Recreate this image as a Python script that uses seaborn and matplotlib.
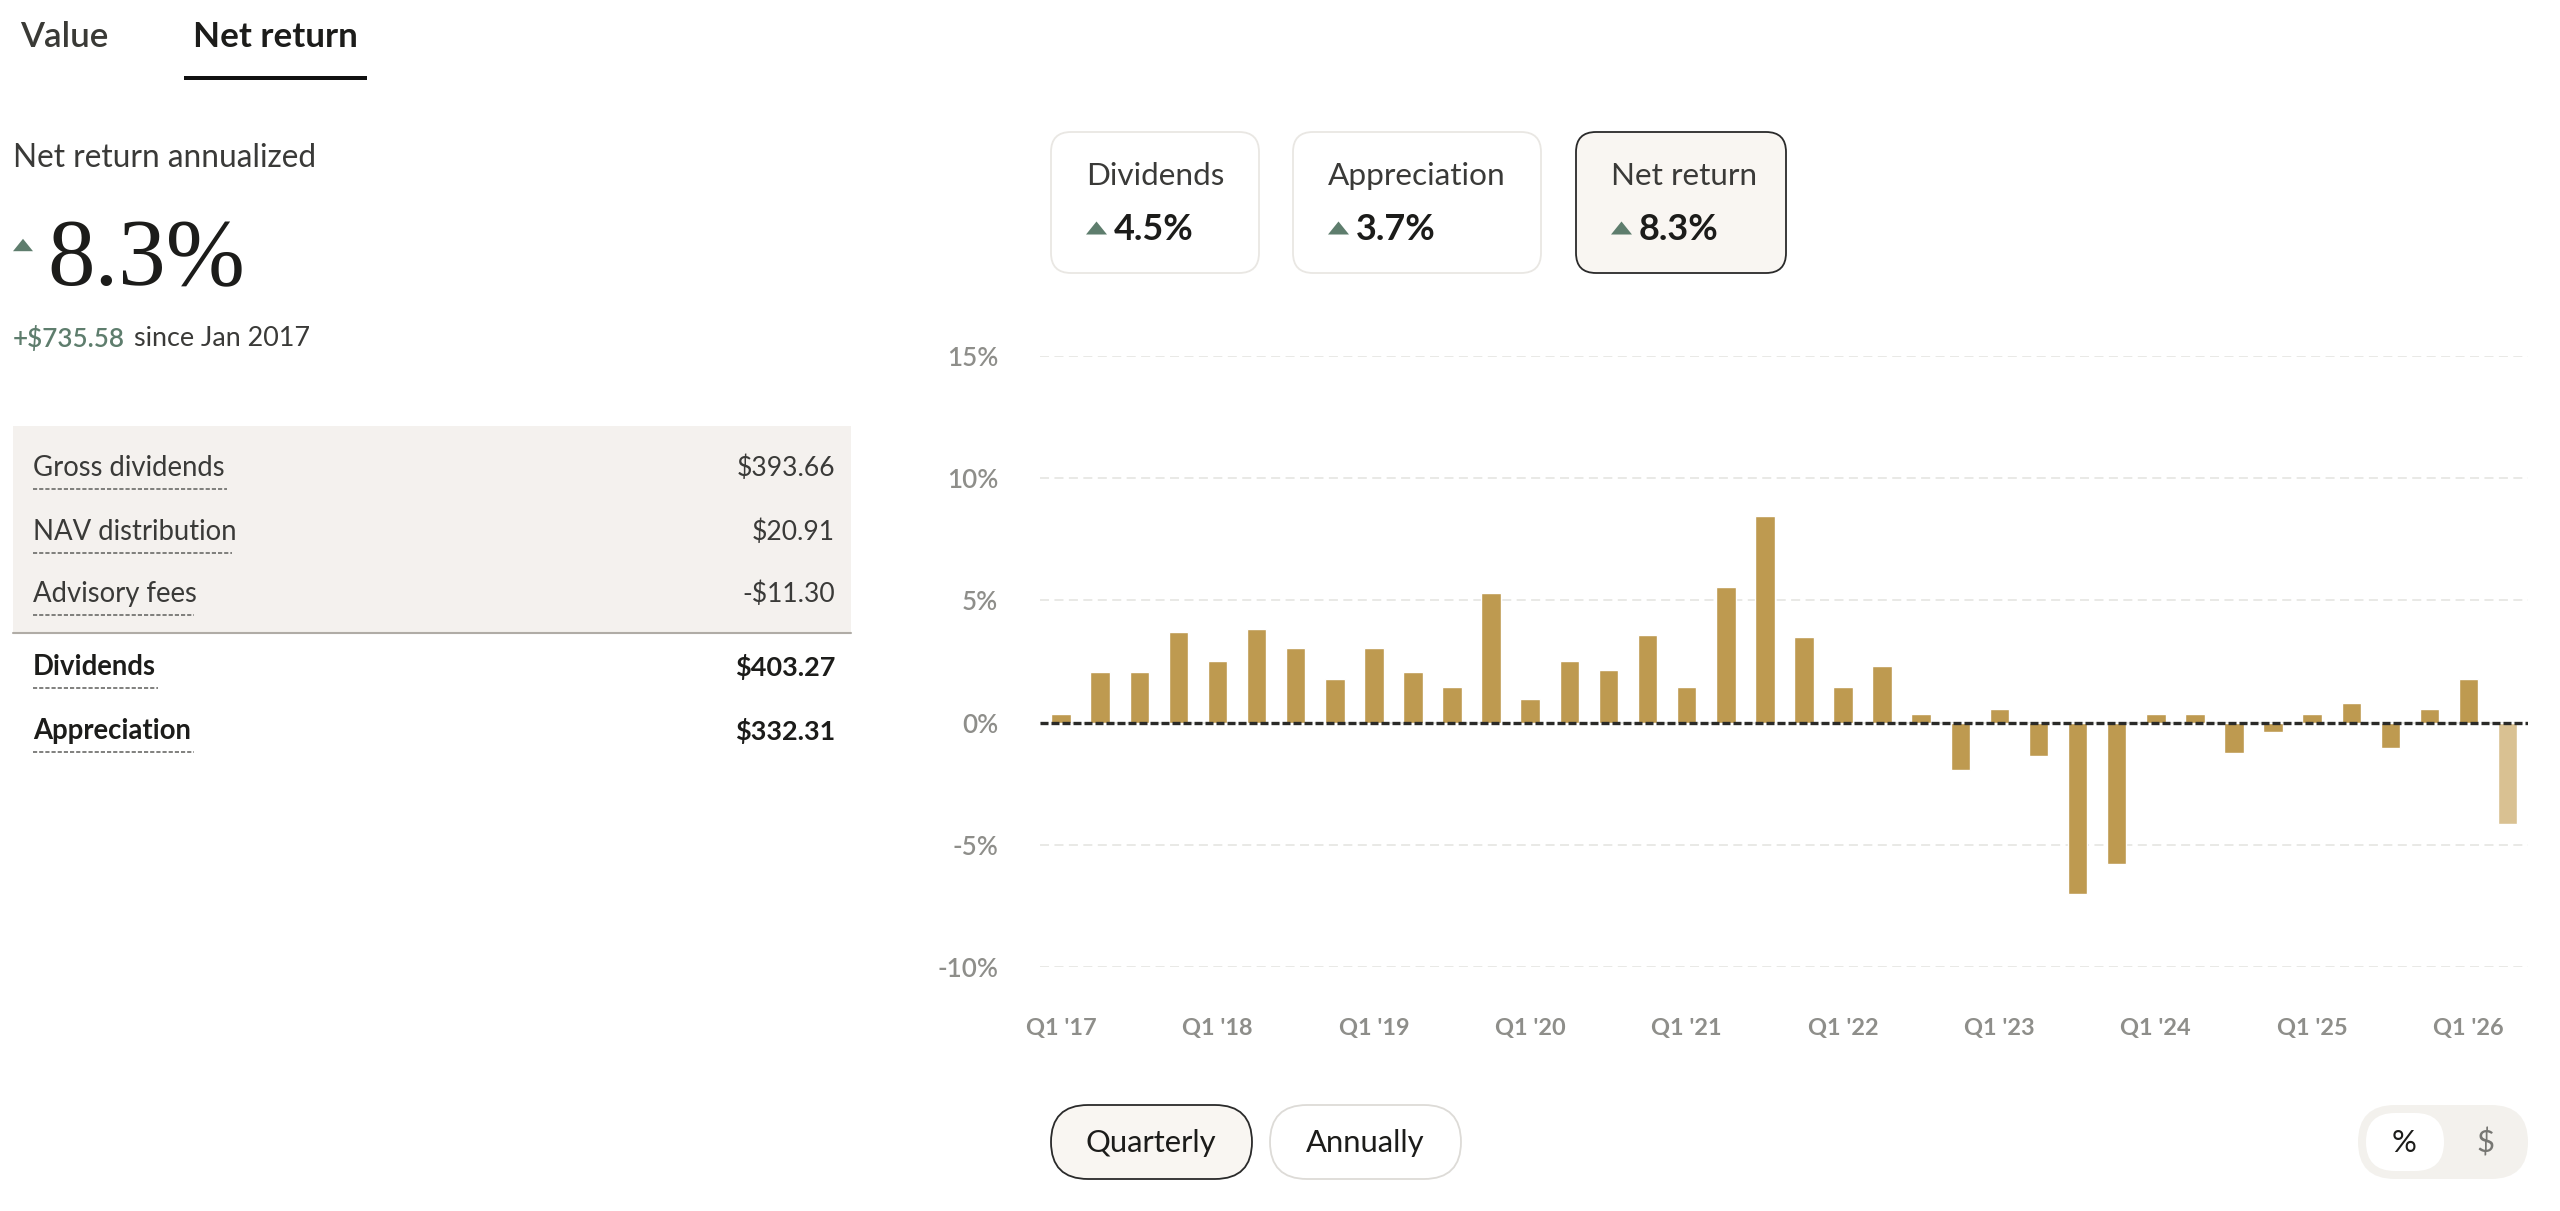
import pandas as pd
import seaborn as sns
import matplotlib.pyplot as plt
from matplotlib.patches import FancyBboxPatch, Polygon, Rectangle

# Data
quarters = [f"Q{q} '{y}" for y in range(17, 26) for q in range(1, 5)] + ["Q1 '26", "Q2 '26"]
net_return = [0.35, 2.05, 2.05, 3.7, 2.5, 3.85, 3.05, 1.8, 3.05, 2.05, 1.45, 5.3, 0.95, 2.5, 2.15, 3.6, 1.45, 5.55,
              8.45, 3.5, 1.45, 2.3, 0.35, -1.95, 0.55, -1.35, -7.0, -5.8, 0.35, 0.35, -1.25, -0.4, 0.35, 0.8,
              -1.05, 0.55, 1.8, -4.15]
status = ['final'] * 37 + ['estimate']
y_ticks = [-10, -5, 0, 5, 10, 15]
y_labels = ['-10%', '-5%', '0%', '5%', '10%', '15%']
x_ticks = [0, 4, 8, 12, 16, 20, 24, 28, 32, 36]
x_labels = ["Q1 '17", "Q1 '18", "Q1 '19", "Q1 '20", "Q1 '21", "Q1 '22", "Q1 '23", "Q1 '24", "Q1 '25", "Q1 '26"]

breakdown_names = ['Gross dividends', 'NAV distribution', 'Advisory fees', 'Dividends', 'Appreciation']
breakdown_values = ['$393.66', '$20.91', '-$11.30', '$403.27', '$332.31']
card_names = ['Dividends', 'Appreciation', 'Net return']
card_values = ['4.5%', '3.7%', '8.3%']

W, H = 2560, 1211
GOLD = '#be9a50'
GOLD_LIGHT = '#d9c192'
GREEN = '#5e7d6d'
INK = '#1c1c1a'
SOFT = '#3a3a38'


def px(size):
    # font size given in image pixels
    return size * 0.72


sns.set_theme(style='white')
plt.rcParams['font.family'] = ['Lato', 'DejaVu Sans']

fig = plt.figure(figsize=(W / 100, H / 100), dpi=100, facecolor='white')

# Overlay in pixel coordinates for the page furniture
ui = fig.add_axes([0, 0, 1, 1])
ui.set_xlim(0, W)
ui.set_ylim(H, 0)
ui.axis('off')


def label(x, y, s, size=28, color=SOFT, ha='left', weight='normal', **kw):
    ui.text(x, y, s, fontsize=px(size), color=color, ha=ha, va='center', fontweight=weight, **kw)


def triangle(x0, x1, y):
    h = (x1 - x0) * 0.62
    ui.add_patch(Polygon([(x0, y + h / 2), (x1, y + h / 2), ((x0 + x1) / 2, y - h / 2)], fc=GREEN, ec='none'))


def box(x0, y0, x1, y1, r, fc, ec, lw=1.3):
    ui.add_patch(FancyBboxPatch((x0 + r, y0 + r), x1 - x0 - 2 * r, y1 - y0 - 2 * r,
                                boxstyle=f'round,pad={r},rounding_size={r}', fc=fc, ec=ec, lw=lw))


# Tabs
label(20, 37, 'Value', size=35, color='#3a3a36', weight='semibold')
label(193, 37, 'Net return', size=35, color=INK, weight='bold')
ui.add_patch(Rectangle((184, 76), 183, 4, fc='#111111', ec='none'))

# Headline
label(13, 158, 'Net return annualized', size=31.7)
triangle(13, 33, 245)
ui.text(47, 285, '8.3%', fontsize=px(95), family='Liberation Serif', color=INK, va='baseline')
label(13, 339, '+$735.58', size=26, color=GREEN, weight='semibold')
label(134, 339, 'since Jan 2017', size=27)

# Breakdown table
ui.add_patch(Rectangle((13, 426), 838, 207, fc='#f4f1ee', ec='none'))
ui.plot([13, 851], [633, 633], color='#b0aca6', lw=1.5)
row_y = [468, 532, 594, 667, 731]
row_end = [227, 232, 194, 158, 194]
for i, name in enumerate(breakdown_names):
    w = 'bold' if i > 2 else 'normal'
    c = INK if i > 2 else SOFT
    label(33, row_y[i], name, size=27.5, color=c, weight=w)
    label(835, row_y[i], breakdown_values[i], size=27 if i > 2 else 26.5, color=c, ha='right', weight=w)
    ui.plot([33, row_end[i]], [row_y[i] + 21] * 2, color='#6b6b68', lw=1.2, dashes=(2.5, 1.2))

# Metric cards
card_x = [(1051, 1259), (1293, 1541), (1576, 1786)]
for i, (x0, x1) in enumerate(card_x):
    active = i == 2
    box(x0, 132, x1, 273, 20, '#f9f6f2' if active else 'white', '#2a2a2a' if active else '#e9e7e3')
    label(x0 + 35, 176, card_names[i], size=31.5)
    triangle(x0 + 35, x0 + 56, 228)
    label(x0 + 63, 230, card_values[i], size=36, color=INK, weight='bold')

# Period buttons and unit toggle
box(1051, 1105, 1252, 1179, 37, '#f9f6f2', '#2a2a2a')
box(1270, 1105, 1461, 1179, 37, 'white', '#dddbd7')
label(1151, 1143, 'Quarterly', size=31, color=INK, ha='center')
label(1365, 1143, 'Annually', size=31, color=INK, ha='center')
box(2358, 1105, 2528, 1179, 37, '#f3f1ed', 'none')
box(2366, 1113, 2444, 1171, 29, 'white', 'none')
label(2404, 1143, '%', size=31, color=INK, ha='center')
label(2485, 1143, '$', size=31, color='#777773', ha='center')

# Bar chart
df = pd.DataFrame({'quarter': quarters, 'net_return': net_return, 'status': status})
ax = fig.add_axes([1040 / W, 1 - 967 / H, (2528 - 1040) / W, (967 - 356) / H])
ax.patch.set_alpha(0)
sns.barplot(data=df, x='quarter', y='net_return', hue='status', dodge=False, width=0.5,
            palette={'final': GOLD, 'estimate': GOLD_LIGHT}, saturation=1, legend=False, ax=ax)
ax.set_xlim(-0.54, 37.52)
ax.set_ylim(-10, 15)
ax.set_xlabel('')
ax.set_ylabel('')
ax.set_xticks(x_ticks, x_labels)
ax.set_yticks(y_ticks, y_labels)
ax.tick_params(axis='both', length=0, labelcolor='#8e8e8a')
ax.tick_params(axis='x', pad=37, labelsize=px(23.5))
ax.tick_params(axis='y', pad=30, labelsize=px(26))
for t in ax.get_xticklabels():
    t.set_fontweight('bold')
for t in ax.get_yticklabels():
    t.set_fontweight('semibold')
ax.yaxis.grid(True, color='#e7e7e4', lw=1.3, dashes=(5, 3))
ax.set_axisbelow(True)
ax.axhline(0, color='#2a2a28', lw=2.4, dashes=(2.4, 0.9), zorder=5)
sns.despine(ax=ax, left=True, bottom=True)

fig.savefig('out.png', dpi=100)
